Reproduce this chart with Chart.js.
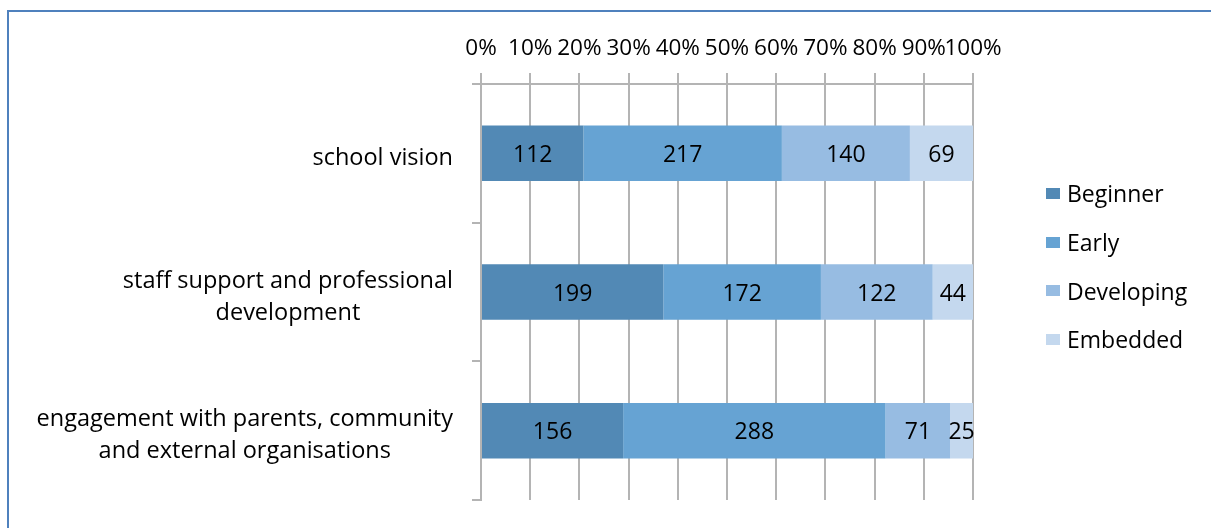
<!DOCTYPE html>
<html>
<head>
<meta charset="utf-8">
<script src="https://cdn.jsdelivr.net/npm/chart.js@4.4.1/dist/chart.umd.min.js"></script>
<style>
    html, body { margin: 0; padding: 0; background: #fff; overflow: hidden; }
    #frame {
        position: absolute; left: 7px; top: 10px; width: 1400px; height: 700px;
        border-left: 2px solid #4f81bd; border-top: 2px solid #4f81bd;
    }
    #wrap { position: absolute; left: 0; top: 0; width: 1211px; height: 528px; }
    #legend {
        position: absolute; left: 1046px; top: 169px; margin: 0; padding: 0; list-style: none;
        font-family: "Open Sans", sans-serif; font-size: 23px; color: #000;
    }
    #legend li { height: 48.7px; display: flex; align-items: center; }
    #legend span.box { display: inline-block; width: 14px; height: 11px; margin-right: 7px; }
</style>
</head>
<body>
<div id="frame"></div>
<div id="wrap"><canvas id="chart" width="1211" height="528"></canvas></div>
<ul id="legend"></ul>
<script>
// Survey results by area (counts), shown as 100% stacked bars
const categories = [
    ['school vision'],
    ['staff support and professional', 'development'],
    ['engagement with parents, community', 'and external organisations']
];
const seriesNames = ['Beginner', 'Early', 'Developing', 'Embedded'];
const beginner = [112, 199, 156];
const early = [217, 172, 288];
const developing = [140, 122, 71];
const embedded = [69, 44, 25];
const tickLabels = ['0%', '10%', '20%', '30%', '40%', '50%', '60%', '70%', '80%', '90%', '100%'];

const colors = ['#5289b5', '#66a3d3', '#97bce2', '#c4d8ee'];
const gridColor = '#b4b4b4';
const family = '"Open Sans", sans-serif';

const series = [beginner, early, developing, embedded];
const totals = categories.map((c, i) => series.reduce((sum, s) => sum + s[i], 0));

const datasets = series.map((values, k) => ({
    label: seriesNames[k],
    data: values.map((v, i) => v / totals[i] * 100),
    counts: values,
    backgroundColor: colors[k],
    borderWidth: 0,
    barPercentage: 0.4,
    categoryPercentage: 1
}));

// counts written in the middle of each segment
const valueLabels = {
    id: 'valueLabels',
    afterDatasetsDraw(chart) {
        const ctx = chart.ctx;
        ctx.save();
        ctx.font = `23px ${family}`;
        ctx.fillStyle = '#000';
        ctx.textAlign = 'center';
        ctx.textBaseline = 'middle';
        chart.data.datasets.forEach((ds, k) => {
            chart.getDatasetMeta(k).data.forEach((bar, i) => {
                ctx.fillText(ds.counts[i], (bar.x + bar.base) / 2, bar.y + 2);
            });
        });
        ctx.restore();
    }
};

// category names: block right aligned, lines centred within the block
const categoryLabels = {
    id: 'categoryLabels',
    afterDraw(chart) {
        const ctx = chart.ctx;
        const yScale = chart.scales.y;
        const right = chart.chartArea.left - 28;
        ctx.save();
        ctx.font = `23.5px ${family}`;
        ctx.fillStyle = '#000';
        ctx.textAlign = 'center';
        ctx.textBaseline = 'middle';
        categories.forEach((lines, i) => {
            const y = yScale.getPixelForValue(i);
            const w = Math.max(...lines.map(l => ctx.measureText(l).width));
            const cx = right - w / 2;
            lines.forEach((line, j) => {
                ctx.fillText(line, cx, y + 5 + (j - (lines.length - 1) / 2) * 32);
            });
        });
        ctx.restore();
    }
};

const chart = new Chart(document.getElementById('chart'), {
    type: 'bar',
    data: {
        labels: categories,
        datasets: datasets
    },
    options: {
        indexAxis: 'y',
        responsive: false,
        animation: false,
        layout: { padding: { left: 0, top: 10, right: 238, bottom: 28 } },
        plugins: {
            legend: { display: false },
            tooltip: { enabled: false }
        },
        scales: {
            x: {
                position: 'top',
                stacked: true,
                min: 0,
                max: 100,
                afterFit: (scale) => { scale.height = 74; },
                ticks: {
                    stepSize: 10,
                    autoSkip: false,
                    maxRotation: 0,
                    padding: 11,
                    color: '#000',
                    font: { family: family, size: 22.5 },
                    callback: (value, index) => tickLabels[index]
                },
                grid: { color: gridColor, lineWidth: 2, tickLength: 11 },
                border: { color: gridColor, width: 2 }
            },
            y: {
                stacked: true,
                afterFit: (scale) => { scale.width = 481; },
                ticks: { display: false },
                grid: { color: gridColor, lineWidth: 2, tickLength: 9, drawOnChartArea: false, offset: true },
                border: { color: gridColor, width: 2 }
            }
        }
    },
    plugins: [valueLabels, categoryLabels]
});

// legend built from the datasets
const legend = document.getElementById('legend');
chart.data.datasets.forEach(ds => {
    const li = document.createElement('li');
    li.innerHTML = `<span class="box" style="background:${ds.backgroundColor}"></span>${ds.label}`;
    legend.appendChild(li);
});
</script>
</body>
</html>
